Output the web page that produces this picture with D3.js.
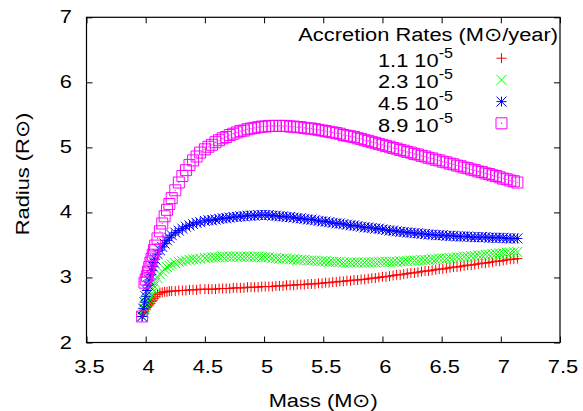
<!DOCTYPE html>
<html><head><meta charset="utf-8">
<script src="https://cdn.jsdelivr.net/npm/d3@7"></script>
<style>body{margin:0;background:#fff}svg{display:block}</style>
</head><body>
<svg id="c" width="583" height="411"></svg>
<script>
const massValues = [3.97,3.98,3.99,4.00,4.01,4.02,4.03,4.04,4.05,4.06,4.07,4.08,4.10,4.12,4.14,4.16,4.18,4.20,4.22,4.25,4.28,4.31,4.34,4.37,4.40,4.43,4.46,4.50,
4.53,4.56,4.59,4.62,4.65,4.68,4.71,4.74,4.77,4.80,
4.83,4.86,4.89,4.92,4.95,4.98,5.01,5.04,5.07,5.10,
5.13,5.16,5.19,5.22,5.25,5.28,5.31,5.34,5.37,5.40,
5.43,5.46,5.49,5.52,5.55,5.58,5.61,5.64,5.67,5.70,
5.73,5.76,5.79,5.82,5.85,5.88,5.91,5.94,5.97,6.00,
6.03,6.06,6.09,6.12,6.15,6.18,6.21,6.24,6.27,6.30,
6.33,6.36,6.39,6.42,6.45,6.48,6.51,6.54,6.57,6.60,
6.63,6.66,6.69,6.72,6.75,6.78,6.81,6.84,6.87,6.90,
6.93,6.96,6.99,7.02,7.05,7.08,7.11,7.14];

const radius11 = [2.40,2.44,2.48,2.51,2.54,2.56,2.58,2.60,2.63,2.65,2.68,2.71,2.74,2.76,2.77,2.78,2.78,2.79,2.79,2.79,2.80,2.80,2.80,2.81,2.81,2.81,2.82,2.82,
2.82,2.82,2.82,2.83,2.83,2.83,2.83,2.84,2.84,2.84,
2.84,2.85,2.85,2.85,2.85,2.86,2.86,2.86,2.86,2.87,
2.87,2.87,2.88,2.88,2.88,2.89,2.89,2.89,2.90,2.90,
2.90,2.91,2.91,2.92,2.92,2.93,2.93,2.94,2.94,2.95,
2.95,2.96,2.96,2.97,2.97,2.98,2.99,2.99,3.00,3.01,
3.01,3.02,3.03,3.04,3.04,3.05,3.06,3.07,3.07,3.08,
3.09,3.10,3.10,3.11,3.12,3.13,3.13,3.14,3.15,3.16,
3.16,3.17,3.18,3.19,3.19,3.20,3.21,3.22,3.22,3.23,
3.24,3.25,3.25,3.26,3.27,3.28,3.28,3.29];

const radius23 = [2.40,2.46,2.52,2.57,2.61,2.64,2.67,2.70,2.76,2.82,2.87,2.92,2.99,3.05,3.09,3.13,3.16,3.18,3.20,3.22,3.24,3.25,3.26,3.27,3.28,3.28,3.29,3.30,
3.30,3.31,3.31,3.31,3.32,3.32,3.32,3.32,3.32,3.32,
3.32,3.32,3.32,3.32,3.32,3.31,3.31,3.31,3.30,3.30,
3.29,3.29,3.29,3.28,3.28,3.27,3.27,3.27,3.26,3.26,
3.26,3.25,3.25,3.25,3.24,3.24,3.24,3.24,3.23,3.23,
3.23,3.23,3.23,3.23,3.23,3.23,3.23,3.23,3.24,3.24,
3.24,3.24,3.24,3.24,3.25,3.25,3.25,3.26,3.26,3.26,
3.27,3.27,3.27,3.28,3.28,3.29,3.29,3.29,3.30,3.30,
3.31,3.31,3.32,3.32,3.33,3.33,3.34,3.34,3.35,3.35,
3.36,3.36,3.37,3.37,3.38,3.38,3.39,3.39];

const radius45 = [2.40,2.52,2.62,2.71,2.80,2.88,2.96,3.04,3.11,3.17,3.23,3.28,3.36,3.42,3.47,3.52,3.57,3.61,3.65,3.69,3.72,3.75,3.78,3.80,3.82,3.84,3.85,3.87,
3.88,3.88,3.89,3.90,3.91,3.91,3.92,3.93,3.93,3.94,
3.94,3.95,3.95,3.95,3.96,3.96,3.96,3.96,3.95,3.95,
3.94,3.94,3.93,3.93,3.92,3.91,3.91,3.90,3.89,3.89,
3.88,3.87,3.86,3.86,3.85,3.84,3.83,3.83,3.82,3.81,
3.80,3.80,3.79,3.78,3.77,3.77,3.76,3.75,3.75,3.74,
3.73,3.72,3.72,3.71,3.70,3.70,3.69,3.69,3.68,3.68,
3.67,3.67,3.66,3.66,3.65,3.65,3.65,3.64,3.64,3.64,
3.63,3.63,3.63,3.63,3.62,3.62,3.62,3.62,3.62,3.61,
3.61,3.61,3.61,3.61,3.60,3.60,3.60,3.60];

// null = no sample at that mass for this run
const radius89 = [2.40,null,2.92,2.97,3.02,3.09,3.16,3.23,3.29,3.35,3.42,3.49,3.60,3.71,3.83,3.94,4.04,4.13,4.22,4.34,4.46,4.56,4.65,4.73,4.80,4.86,4.92,4.97,
5.01,5.04,5.08,5.11,5.14,5.16,5.19,5.21,5.23,5.25,
5.26,5.28,5.29,5.30,5.31,5.32,5.32,5.33,5.33,5.33,
5.33,5.33,5.33,5.32,5.32,5.31,5.31,5.30,5.29,5.29,
5.28,5.27,5.26,5.25,5.24,5.23,5.22,5.21,5.19,5.18,
5.17,5.16,5.14,5.13,5.11,5.10,5.08,5.07,5.05,5.04,
5.02,5.01,4.99,4.98,4.96,4.95,4.93,4.92,4.90,4.89,
4.87,4.86,4.84,4.83,4.81,4.80,4.78,4.77,4.75,4.74,
4.72,4.71,4.69,4.68,4.66,4.65,4.63,4.62,4.60,4.59,
4.57,4.56,4.54,4.52,4.51,4.49,4.48,4.46];

const seriesLabels = ["1.1 10", "2.3 10", "4.5 10", "8.9 10"];
const seriesExponent = "-5";
const seriesColors = ["#ff0000", "#00ff00", "#0000ff", "#ff00ff"];
const seriesMarkers = ["plus", "cross", "star", "boxdot"];
const seriesRadii = [radius11, radius23, radius45, radius89];
const xTicks = [3.5, 4, 4.5, 5, 5.5, 6, 6.5, 7, 7.5];
const yTicks = [2, 3, 4, 5, 6, 7];
const legendTitle = "Accretion Rates (M\u2299/year)";
const xTitle = "Mass (M\u2299)";
const yTitle = "Radius (R\u2299)";

const svg = d3.select("#c");
const L = 86.5, R = 560, T = 17.3, B = 342.5;
const x = d3.scaleLinear().domain([3.5, 7.5]).range([L, R]);
const y = d3.scaleLinear().domain([2, 7]).range([B, T]);
const FONT = "'Liberation Sans', Arial, Helvetica, sans-serif";
const FS = 19, SX = 1.15;

function txt(px, py, str, anchor, rot) {
  const t = svg.append("text")
    .attr("transform", `translate(${px},${py})` + (rot ? ` rotate(${rot})` : "") + ` scale(${SX},1)`)
    .attr("font-family", FONT).attr("font-size", FS).attr("fill", "#000")
    .attr("text-anchor", anchor || "start");
  t.text(str);
  return t;
}

function markerPath(type, s) {
  const h = s / 2;
  if (type === "plus") return `M${-h},0H${h}M0,${-h}V${h}`;
  if (type === "cross") return `M${-h},${-h}L${h},${h}M${-h},${h}L${h},${-h}`;
  if (type === "star") return `M${-h},0H${h}M0,${-h}V${h}M${-h},${-h}L${h},${h}M${-h},${h}L${h},${-h}`;
  return `M${-h},${-h}H${h}V${h}H${-h}Z`;
}
const markerSize = t => (t === "boxdot" ? 11 : 10);

// frame and ticks (inward, mirrored)
const axes = svg.append("g");
axes.append("g").attr("transform", `translate(0,${B})`)
  .call(d3.axisBottom(x).tickValues(xTicks).tickSize(-6).tickFormat(""));
axes.append("g").attr("transform", `translate(0,${T})`)
  .call(d3.axisTop(x).tickValues(xTicks).tickSize(-6).tickFormat(""));
axes.append("g").attr("transform", `translate(${L},0)`)
  .call(d3.axisLeft(y).tickValues(yTicks).tickSize(-6).tickFormat(""));
axes.append("g").attr("transform", `translate(${R},0)`)
  .call(d3.axisRight(y).tickValues(yTicks).tickSize(-6).tickFormat(""));
axes.selectAll(".domain").remove();
axes.selectAll(".tick line").attr("stroke", "#000").attr("stroke-width", 1);
svg.append("rect").attr("x", L).attr("y", T).attr("width", R - L).attr("height", B - T)
  .attr("fill", "none").attr("stroke", "#000").attr("stroke-width", 1.2);

// tick labels
xTicks.forEach(v => txt(x(v) + 3, 373.3, String(v), "middle"));
yTicks.forEach(v => txt(72, y(v) + 6, String(v), "end"));

// axis titles
txt((L + R) / 2, 407, xTitle, "middle");
txt(28.5, 174, yTitle, "middle", -90);

// series
const plot = svg.append("g");
seriesRadii.forEach((rad, i) => {
  const g = plot.append("g");
  const pts = massValues.map((m, k) => [m, rad[k]]).filter(d => d[1] != null);
  g.selectAll("path").data(pts).join("path")
    .attr("transform", d => `translate(${x(d[0])},${y(d[1])})`)
    .attr("d", markerPath(seriesMarkers[i], markerSize(seriesMarkers[i])))
    .attr("fill", "none").attr("stroke", seriesColors[i]).attr("stroke-width", 1);
  if (seriesMarkers[i] === "boxdot") {
    g.selectAll("circle").data(pts).join("circle")
      .attr("cx", d => x(d[0])).attr("cy", d => y(d[1])).attr("r", 0.6)
      .attr("fill", seriesColors[i]);
  }
});

// legend
txt(558, 41, legendTitle, "end");
seriesLabels.forEach((lab, i) => {
  const by = 66.7 + i * 21.7;
  const t = txt(453, by, "", "end");
  t.append("tspan").text(lab);
  t.append("tspan").attr("dy", -9).attr("font-size", 14).text(seriesExponent);
  const g = svg.append("g").attr("transform", `translate(501.5,${by - 8.5})`);
  g.append("path").attr("d", markerPath(seriesMarkers[i], markerSize(seriesMarkers[i])))
    .attr("fill", "none").attr("stroke", seriesColors[i]).attr("stroke-width", 1);
  if (seriesMarkers[i] === "boxdot") g.append("circle").attr("r", 0.7).attr("fill", seriesColors[i]);
});
</script>
</body></html>
